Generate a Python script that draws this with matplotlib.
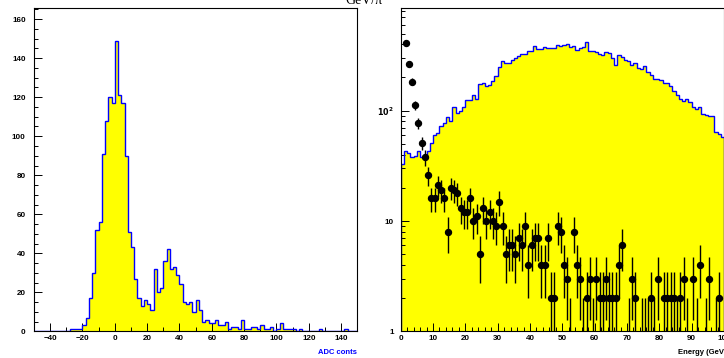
import numpy as np
import matplotlib
matplotlib.use('Agg')
import matplotlib.pyplot as plt
from matplotlib.ticker import MultipleLocator, LogLocator, FixedLocator, FixedFormatter, NullFormatter

# ---- left pad: ADC spectrum, 2-count bins from -50 to 150 ----
adc_edges = np.arange(-50, 152, 2)
adc_counts = [
    0, 0, 0, 0, 0, 0, 0, 0, 0, 0,
    0, 1, 1, 1, 1, 3, 7, 17, 30, 52,
    56, 91, 108, 120, 117, 149, 121, 117, 90, 51,
    43, 27, 17, 13, 16, 14, 11, 32, 20, 22,
    36, 42, 32, 33, 29, 24, 15, 14, 15, 10,
    16, 11, 5, 6, 4, 4, 6, 3, 3, 5,
    1, 2, 2, 1, 6, 1, 1, 2, 2, 1,
    3, 1, 1, 2, 0, 1, 4, 1, 1, 1,
    1, 0, 1, 0, 0, 0, 0, 0, 1, 0,
    0, 0, 0, 0, 0, 0, 1, 0, 0, 0,
]

# ---- right pad: energy spectrum, 1 GeV bins from 0 to 100 ----
energy_edges = np.arange(0, 101, 1)
energy_counts = [
    33, 43, 41, 38, 39, 43, 38, 38, 43, 51,
    60, 63, 72, 77, 88, 80, 108, 95, 100, 108,
    125, 125, 140, 128, 175, 180, 168, 172, 185, 205,
    250, 280, 270, 268, 290, 300, 315, 330, 325, 350,
    350, 385, 365, 362, 375, 370, 370, 368, 392, 385,
    395, 400, 378, 388, 355, 368, 375, 420, 348, 345,
    340, 325, 318, 340, 335, 300, 260, 318, 310, 290,
    280, 260, 270, 245, 240, 255, 225, 212, 195, 192,
    188, 180, 178, 168, 150, 140, 128, 122, 127, 121,
    108, 103, 107, 94, 92, 90, 90, 64, 62, 58,
]
# points with sqrt(N) errors (0 = empty bin)
muon_counts = [
    0, 408, 267, 183, 113, 77, 51, 38, 26, 16,
    16, 21, 19, 16, 8, 20, 19, 18, 13, 12,
    12, 16, 10, 11, 5, 13, 10, 12, 10, 9,
    15, 9, 5, 6, 6, 5, 7, 6, 9, 4,
    6, 7, 7, 4, 4, 7, 2, 2, 9, 8,
    4, 3, 1, 8, 4, 3, 1, 2, 3, 1,
    3, 2, 2, 3, 2, 2, 2, 4, 6, 0,
    1, 3, 2, 0, 1, 1, 1, 2, 1, 3,
    0, 2, 2, 2, 2, 1, 2, 3, 1, 0,
    3, 1, 4, 0, 1, 3, 0, 1, 2, 0,
]

W, H = 724, 358
fig = plt.figure(figsize=(W / 100, H / 100), dpi=100)
fig.patch.set_facecolor('white')

lab_font = dict(family='Liberation Sans', weight='bold', size=5.5)


def style_axes(ax):
    for s in ax.spines.values():
        s.set_linewidth(0.8)
        s.set_zorder(5)
    ax.tick_params(which='both', direction='in', top=False, right=False,
                   width=0.7, labelsize=5.8)
    ax.tick_params(which='major', length=6)
    ax.tick_params(which='minor', length=3)
    for lab in ax.get_xticklabels() + ax.get_yticklabels():
        lab.set_fontfamily('Liberation Sans')
        lab.set_fontweight('bold')


# left pad
ax1 = fig.add_axes([34 / W, 1 - 331.3 / H, 323.3 / W, 323 / H])
ax1.stairs(adc_counts, adc_edges, fill=True, color='#ffff00', zorder=1)
ax1.stairs(adc_counts, adc_edges, baseline=None, color='#0000ff', lw=1.0, zorder=2)
ax1.set_xlim(-50, 150)
ax1.set_ylim(0, 165.6)
ax1.xaxis.set_major_locator(MultipleLocator(20))
ax1.xaxis.set_minor_locator(MultipleLocator(10))
ax1.yaxis.set_major_locator(MultipleLocator(20))
ax1.yaxis.set_minor_locator(MultipleLocator(5))
ax1.tick_params(axis='x', pad=3)
ax1.tick_params(axis='y', pad=6)
style_axes(ax1)
fig.text(357 / W, 1 - 354 / H, 'ADC conts', color='#0000ff', ha='right', va='baseline', **lab_font)

# right pad
ax2 = fig.add_axes([400.7 / W, 1 - 331.3 / H, 323.3 / W, 323 / H])
ax2.set_yscale('log')
ax2.stairs(energy_counts, energy_edges, fill=True, color='#ffff00', baseline=0.5, zorder=1)
ax2.stairs(energy_counts, energy_edges, color='#0000ff', lw=1.0, baseline=0.5, zorder=2)

mu = np.array(muon_counts, dtype=float)
centers = 0.5 * (energy_edges[:-1] + energy_edges[1:])
keep = mu > 0
err = np.sqrt(mu[keep])
err_lo = np.minimum(err, mu[keep] * 0.999)
# error bars for every filled bin, markers only above the frame bottom
ax2.errorbar(centers[keep], mu[keep], yerr=[err_lo, err], fmt='none', ecolor='black',
             elinewidth=1.0, capsize=0, zorder=3)
vis = mu > 1
ax2.plot(centers[vis], mu[vis], 'o', color='black', ms=4.3, zorder=4)

ax2.set_xlim(0, 100)
ax2.set_ylim(1, 848)
ax2.xaxis.set_major_locator(MultipleLocator(10))
ax2.xaxis.set_minor_locator(MultipleLocator(2))
ax2.yaxis.set_major_locator(FixedLocator([1, 10, 100]))
ax2.yaxis.set_major_formatter(FixedFormatter(['1', '10', r'$\mathbf{10^{2}}$']))
ax2.yaxis.set_minor_locator(LogLocator(base=10, subs=np.arange(2, 10)))
ax2.yaxis.set_minor_formatter(NullFormatter())
ax2.tick_params(axis='x', pad=3)
ax2.tick_params(axis='y', pad=5)
style_axes(ax2)
fig.text(727 / W, 1 - 354 / H, 'Energy (GeV)', color='black', ha='right', va='baseline', **lab_font)

# canvas title, mostly cut off at the top edge
fig.text(364 / W, 1 - 4 / H, 'GeV/π', family='Liberation Serif', size=10,
         ha='center', va='baseline')

fig.savefig('out.png', dpi=100)
